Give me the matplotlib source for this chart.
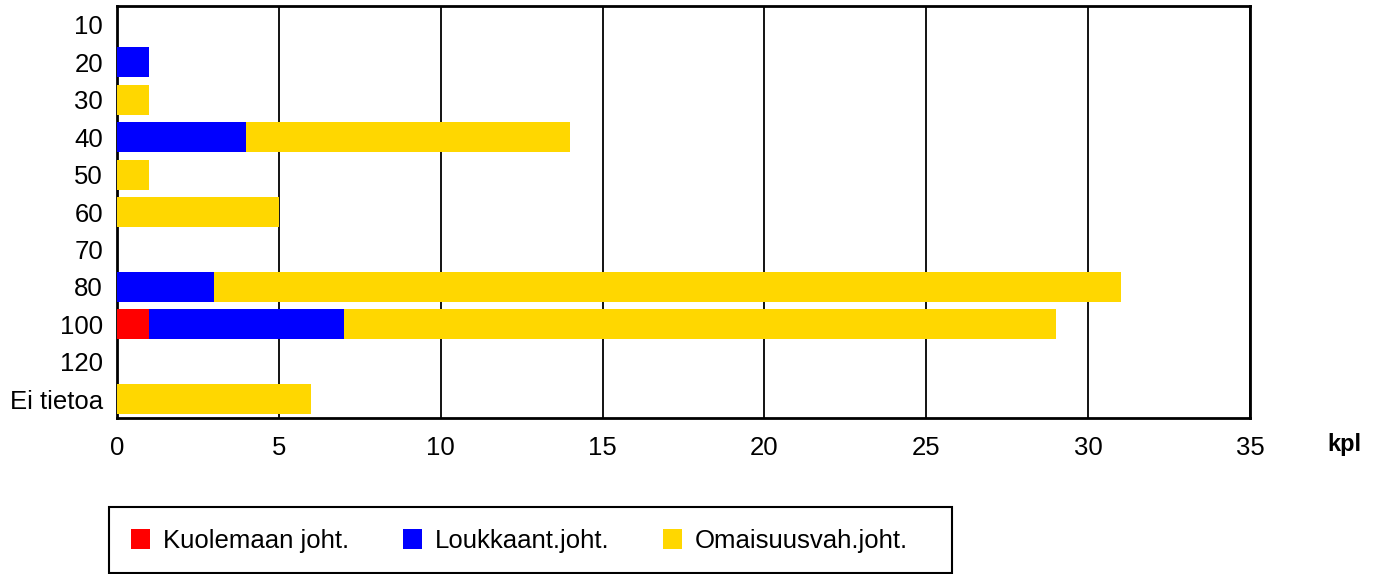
import matplotlib
matplotlib.use("Agg")
import matplotlib.pyplot as plt
from matplotlib.patches import Rectangle

plt.rcParams['font.family'] = ['Liberation Sans', 'DejaVu Sans']

categories = ["10", "20", "30", "40", "50", "60", "70", "80", "100", "120", "Ei tietoa"]
kuolemaan = [0, 0, 0, 0, 0, 0, 0, 0, 1, 0, 0]
loukkaant = [0, 1, 0, 4, 0, 0, 0, 3, 6, 0, 0]
omaisuus = [0, 0, 1, 10, 1, 5, 0, 28, 22, 0, 6]
series_names = ["Kuolemaan joht.", "Loukkaant.joht.", "Omaisuusvah.joht."]
colors = ["#FF0000", "#0000FF", "#FFD700"]

fig = plt.figure(figsize=(13.77, 5.74), dpi=100)
ax = fig.add_axes([117/1377, 1 - 418/574, (1250 - 117)/1377, (418 - 6)/574])

y = list(range(len(categories)))
left = [0] * len(categories)
handles = []
for vals, name, c in zip([kuolemaan, loukkaant, omaisuus], series_names, colors):
    h = ax.barh(y, vals, left=left, height=0.8, color=c, label=name, zorder=3)
    handles.append(h)
    left = [a + b for a, b in zip(left, vals)]

ax.set_xlim(0, 35)
ax.set_ylim(len(categories) - 0.5, -0.5)
ax.set_xticks(range(0, 36, 5))
ax.set_yticks(y)
ax.set_yticklabels(categories)
ax.tick_params(axis='both', length=0, labelsize=18.5)
ax.tick_params(axis='x', pad=13)
ax.tick_params(axis='y', pad=10)
ax.grid(axis='x', color='black', linewidth=1.3, zorder=1)
for s in ax.spines.values():
    s.set_linewidth(2)
    s.set_color('black')

fig.text(1344/1377, 1 - 445/574, "kpl", fontsize=17, fontweight='bold',
         ha='center', va='center')

# legend box
fig.patches.append(Rectangle((109/1377, 1 - 573/574), 843/1377, 66/574,
                             transform=fig.transFigure, fill=False,
                             edgecolor='black', linewidth=1.5))
leg = fig.legend(handles=handles, loc='center left',
                 bbox_to_anchor=(131/1377, 1 - 541/574), ncol=3,
                 frameon=False, fontsize=18.5, handlelength=0.74,
                 handleheight=0.8, handletextpad=0.5, columnspacing=2.1,
                 borderaxespad=0, borderpad=0)

fig.savefig("out.png", dpi=100)
